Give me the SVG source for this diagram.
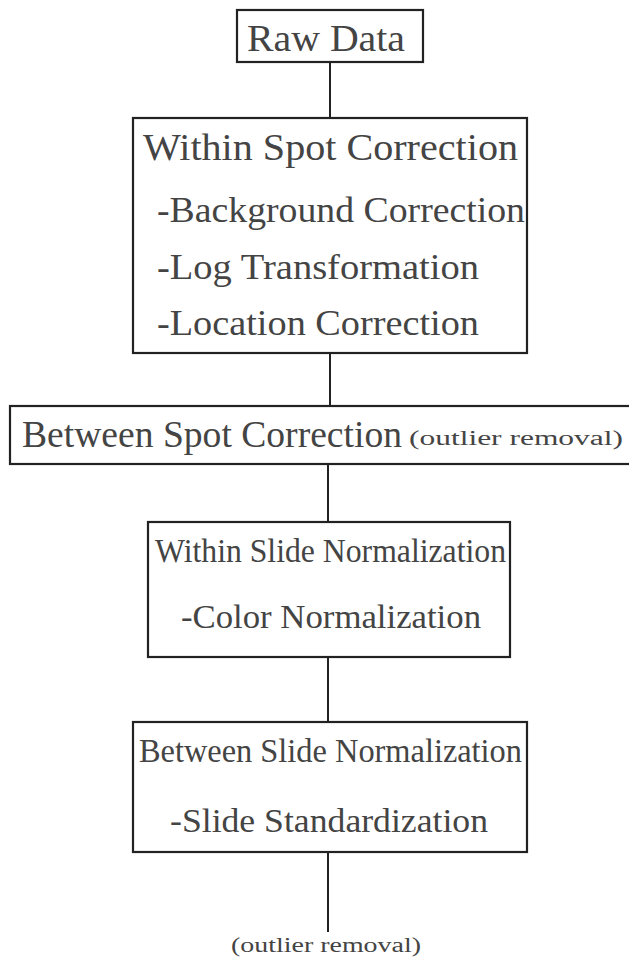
<svg xmlns="http://www.w3.org/2000/svg" width="629" height="959" viewBox="0 0 629 959">
<style>
.box{fill:none;stroke:#222;stroke-width:2.2}
.con{stroke:#222;stroke-width:2}
text{font-family:"Liberation Serif","DejaVu Serif",serif;fill:#444}
.h{font-size:38px}
.i{font-size:35px}
.h2{font-size:33px}
.i2{font-size:33px}
.s{font-size:20px}
</style>
<rect width="629" height="959" fill="#fff"/>
<g id="connectors">
<line class="con" x1="330" y1="62" x2="330" y2="118"/>
<line class="con" x1="330" y1="353" x2="330" y2="406"/>
<line class="con" x1="328" y1="464" x2="328" y2="522"/>
<line class="con" x1="328" y1="657" x2="328" y2="722"/>
<line class="con" x1="328" y1="852" x2="328" y2="932"/>
</g>
<g id="raw-data">
<rect class="box" x="237" y="10" width="186" height="52"/>
<text class="h" x="247" y="51" textLength="158" lengthAdjust="spacingAndGlyphs">Raw Data</text>
</g>
<g id="within-spot">
<rect class="box" x="133" y="118" width="394" height="235"/>
<text class="h" x="143" y="160" textLength="375" lengthAdjust="spacingAndGlyphs">Within Spot Correction</text>
<text class="i" x="157" y="222" textLength="368" lengthAdjust="spacingAndGlyphs">-Background Correction</text>
<text class="i" x="157" y="279" textLength="322" lengthAdjust="spacingAndGlyphs">-Log Transformation</text>
<text class="i" x="157" y="335" textLength="322" lengthAdjust="spacingAndGlyphs">-Location Correction</text>
</g>
<g id="between-spot">
<rect class="box" x="10" y="406" width="640" height="58"/>
<text class="h" x="22" y="447" textLength="380" lengthAdjust="spacingAndGlyphs">Between Spot Correction</text>
<text class="s" x="409" y="445" textLength="214" lengthAdjust="spacingAndGlyphs">(outlier removal)</text>
</g>
<g id="within-slide">
<rect class="box" x="148" y="522" width="362" height="135"/>
<text class="h2" x="155" y="562" textLength="351" lengthAdjust="spacingAndGlyphs">Within Slide Normalization</text>
<text class="i2" x="181" y="628" textLength="300" lengthAdjust="spacingAndGlyphs">-Color Normalization</text>
</g>
<g id="between-slide">
<rect class="box" x="133" y="722" width="394" height="130"/>
<text class="h2" x="139" y="762" textLength="383" lengthAdjust="spacingAndGlyphs">Between Slide Normalization</text>
<text class="i2" x="170" y="832" textLength="318" lengthAdjust="spacingAndGlyphs">-Slide Standardization</text>
</g>
<g id="note">
<text class="s" x="231" y="952" textLength="190" lengthAdjust="spacingAndGlyphs">(outlier removal)</text>
</g>
</svg>
